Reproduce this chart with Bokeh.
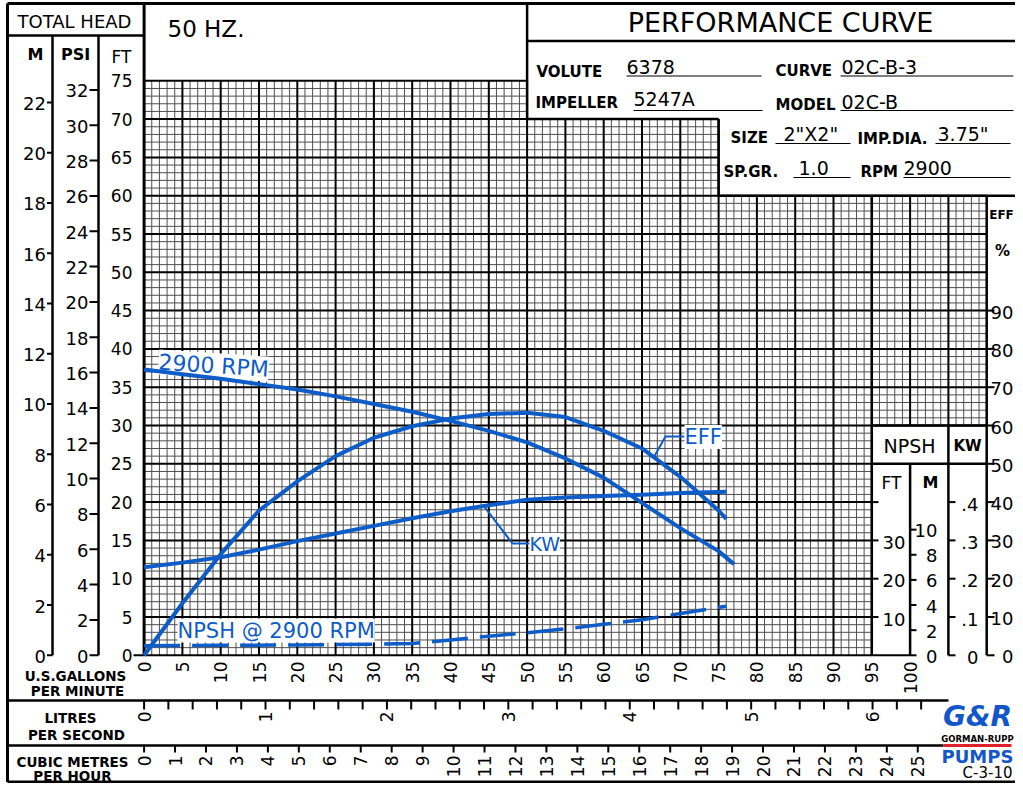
import numpy as np
from bokeh.plotting import figure
from bokeh.models import Range1d
from bokeh.core.properties import value
from bokeh.embed import file_html
from bokeh.resources import INLINE

# ---------------- data ----------------
gpm_head = [0, 5, 10, 15, 20, 25, 30, 35, 40, 45, 50, 55, 60, 65, 70, 75, 77]
head_ft = [37.3, 36.7, 36.1, 35.4, 34.7, 33.8, 32.8, 31.8, 30.6, 29.3, 27.8, 25.7, 23.2, 19.9, 16.6, 13.6, 11.9]

gpm_eff = [0, 5, 10, 15, 20, 25, 30, 35, 40, 45, 50, 55, 60, 65, 70, 75, 76]
eff_pct = [0, 13.6, 26.4, 37.8, 45.4, 52.0, 56.8, 59.8, 61.8, 63.0, 63.3, 62.2, 58.6, 54.0, 46.6, 37.8, 35.6]

gpm_kw = [0, 5, 10, 15, 20, 25, 30, 35, 40, 45, 50, 55, 60, 65, 70, 76]
kw_vals = [0.230, 0.242, 0.256, 0.276, 0.298, 0.318, 0.338, 0.358, 0.376, 0.392, 0.406, 0.412, 0.416, 0.419, 0.424, 0.427]

gpm_npsh = [0, 10, 20, 30, 35, 40, 45, 50, 55, 60, 65, 70, 76]
npsh_ft = [2.5, 2.6, 2.7, 2.9, 3.1, 4.0, 5.0, 5.9, 6.9, 8.1, 9.3, 10.9, 12.8]

gpm_ticks = list(range(0, 101, 5))
ft_ticks = list(range(0, 76, 5))
m_ticks = list(range(0, 23, 2))
psi_ticks = list(range(0, 33, 2))
lps_labels = [0, 1, 2, 3, 4, 5, 6]
lps_minor = [round(i * 0.2, 1) for i in range(0, 33)]
m3h_ticks = list(range(0, 26))
npsh_ft_ticks = [10, 20, 30, 40]
npsh_ft_labels = ["10", "20", "30", ""]
npsh_m_ticks = [0, 2, 4, 6, 8, 10]
kw_ticks = [0, 0.1, 0.2, 0.3, 0.4]
kw_labels = ["0", ".1", ".2", ".3", ".4"]
eff_ticks = [0, 10, 20, 30, 40, 50, 60, 70, 80, 90]

info_volute = "6378"
info_curve = "02C-B-3"
info_impeller = "5247A"
info_model = "02C-B"
info_size = '2"X2"'
info_impdia = '3.75"'
info_spgr = "1.0"
info_rpm = "2900"

# unit relations printed on the sheet's scales
FT_PER_M = 3.2808
FT_PER_PSI = 2.3067
GPM_PER_LPS = 15.85
GPM_PER_M3H = 4.04      # spacing as printed on this sheet
EFF_PER_FT = 2.0
NPSH_PER_FT = 2.0
KW_PER_FT = 0.02

BLUE = "#0d5cc7"
FONT = value("DejaVu Sans")

# layout helpers (page pixel -> chart units)
S, X0, Y0 = 7.66, 143.6, 654.8
def X(px): return (px - X0) / S
def Y(py): return (Y0 - py) / S

W, H = 1015, 783
p = figure(width=W, height=H,
           x_range=Range1d(X(0), X(W)), y_range=Range1d(Y(H), Y(0)),
           x_axis_type=None, y_axis_type=None, toolbar_location=None,
           output_backend="svg", min_border=0, outline_line_color=None)
p.background_fill_color = "white"
p.border_fill_color = "white"

def segs(x0, y0, x1, y1, w=2.5, c="black", **kw):
    p.segment(x0=list(x0), y0=list(y0), x1=list(x1), y1=list(y1),
              line_width=w, line_color=c, **kw)

def seg(x0, y0, x1, y1, w=2.5, c="black", **kw):
    segs([x0], [y0], [x1], [y1], w, c, **kw)

def txt(x, y, s, size, align="left", base="middle", style="normal", color="black", angle=0.0, **kw):
    if not isinstance(x, (list, tuple, np.ndarray)):
        x, y, s = [x], [y], [s]
    p.text(x=list(x), y=list(y), text=list(s), text_font=FONT, text_font_size=f"{size}px",
           text_align=align, text_baseline=base, text_color=color, angle=angle,
           text_font_style=style, **kw)

# ---------------- grid ----------------
mj = ([], [], [], [])
mn = ([], [], [], [])
for g in range(1, 110):
    top = 75 if g <= 50 else (70 if g <= 75 else 60)
    bot = 0 if g <= 95 else 30
    t = mj if g % 5 == 0 else mn
    t[0].append(g); t[1].append(bot); t[2].append(g); t[3].append(top)
for f in range(0, 76):
    right = 100 if f == 0 else (95 if f < 30 else (110 if f <= 60 else (75 if f <= 70 else 50)))
    t = mj if f % 5 == 0 else mn
    t[0].append(0); t[1].append(f); t[2].append(right); t[3].append(f)
segs(*mn, w=1, c="#4e4e4e")
segs(*mj, w=2, c="black")

# ---------------- frame ----------------
TOP, LEFT, BOT, RIGHT = Y(3), X(7), Y(781.5), X(W)
seg(LEFT, TOP, RIGHT, TOP, 3)
seg(LEFT, TOP, LEFT, BOT, 3)
seg(LEFT, BOT, RIGHT, BOT, 3)
seg(0, TOP, 0, 0, 3)
seg(LEFT, Y(35), 0, Y(35), 2.5)
seg(X(52), Y(35), X(52), 0, 2.5)
seg(X(98), Y(35), X(98), 0, 2.5)
seg(50, TOP, 50, 70, 2.5)
seg(50, Y(40.5), RIGHT, Y(40.5), 2.5)
seg(50, 70, 75, 70, 2.5)
seg(75, 70, 75, 60, 2.5)
seg(75, 60, RIGHT, 60, 2.5)
seg(110, 60, 110, 0, 2.5)
seg(95, 30, 110, 30, 2.5)
seg(95, 25, 110, 25, 2.5)
seg(95, 0, 95, 60, 2.5)
seg(100, 25, 100, 0, 2.5)
seg(105, 30, 105, 0, 2.5)
seg(LEFT, Y(700), X(948), Y(700), 2.5)
seg(LEFT, Y(745), X(943), Y(745), 2.5)

# ---------------- header texts ----------------
txt(X(74), Y(21), "TOTAL HEAD", 18, align="center")
txt(X(35), Y(54), "M", 16, align="center", style="bold")
txt(X(75), Y(54), "PSI", 16, align="center", style="bold")
txt(X(121), Y(56), "FT", 17, align="center")
txt(X(167), Y(28), "50 HZ.", 23)
txt(X(780), Y(22), "PERFORMANCE CURVE", 27, align="center")

def field(lx, ly, label, vx, vy, val, ux0, ux1, uy):
    txt(X(lx), Y(ly), label, 15, style="bold")
    txt(X(vx), Y(vy), val, 19)
    seg(X(ux0), Y(uy), X(ux1), Y(uy), 1.2)

field(536, 71, "VOLUTE", 626, 66, info_volute, 626, 761, 75.5)
field(775, 70, "CURVE", 841, 66, info_curve, 840, 1013, 75.5)
field(535, 102, "IMPELLER", 633, 98, info_impeller, 633, 762, 110)
field(775, 104, "MODEL", 841, 101, info_model, 840, 1013, 110)
field(730, 137, "SIZE", 783, 133, info_size, 775, 850, 143)
field(857, 138, "IMP.DIA.", 937, 133, info_impdia, 935, 1010, 143)
field(723, 171, "SP.GR.", 798, 167, info_spgr, 793, 850, 177)
field(860, 171, "RPM", 903, 167, info_rpm, 903, 1010, 177)

# ---------------- left scales ----------------
m_y = [m * FT_PER_M for m in m_ticks]
segs([X(46.5)] * len(m_y), m_y, [X(52)] * len(m_y), m_y, 2)
txt([X(45.5)] * len(m_y), [v - 1 / S for v in m_y], [str(m) for m in m_ticks], 18, align="right")

psi_y = [v * FT_PER_PSI for v in psi_ticks]
segs([X(89)] * len(psi_y), psi_y, [X(98)] * len(psi_y), psi_y, 2)
txt([X(88)] * len(psi_y), [v - 1 / S for v in psi_y], [str(v) for v in psi_ticks], 18, align="right")

txt([X(132)] * len(ft_ticks), ft_ticks, [str(v) for v in ft_ticks], 17, align="right")
seg(X(133), 0, 0, 0, 2)

# ---------------- bottom scales ----------------
txt(gpm_ticks, [Y(661)] * len(gpm_ticks), [str(v) for v in gpm_ticks], 17,
    align="right", angle=np.pi / 2)
txt(X(75), Y(675), "U.S.GALLONS", 13.5, align="center", style="bold")
txt(X(77), Y(690), "PER MINUTE", 13.5, align="center", style="bold")

lx = [v * GPM_PER_LPS for v in lps_minor]
segs(lx, [Y(700)] * len(lx), lx, [Y(709)] * len(lx), 2)
txt([v * GPM_PER_LPS for v in lps_labels], [Y(711)] * len(lps_labels),
    [str(v) for v in lps_labels], 17, align="right", angle=np.pi / 2)
txt(X(70), Y(717), "LITRES", 13.5, align="center", style="bold")
txt(X(76), Y(734), "PER SECOND", 13.5, align="center", style="bold")

cx = [v * GPM_PER_M3H for v in m3h_ticks]
segs(cx, [Y(745)] * len(cx), cx, [Y(752)] * len(cx), 2)
txt(cx, [Y(755)] * len(cx), [str(v) for v in m3h_ticks], 17, align="right", angle=np.pi / 2)
txt(X(72), Y(761), "CUBIC METRES", 13.5, align="center", style="bold")
txt(X(72), Y(775), "PER HOUR", 13.5, align="center", style="bold")

# ---------------- right scales ----------------
txt(X(909), Y(445), "NPSH", 19, align="center")
txt(X(967), Y(445), "KW", 15, align="center", style="bold")
txt(X(891), Y(482), "FT", 17, align="center")
txt(X(930), Y(482), "M", 16, align="center", style="bold")

ny = [v / NPSH_PER_FT for v in npsh_ft_ticks]
segs([95] * len(ny), ny, [X(878)] * len(ny), ny, 2)
txt([X(905)] * len(ny), [v - 2 / S for v in ny], npsh_ft_labels, 18, align="right")

nmy = [m * FT_PER_M / NPSH_PER_FT for m in npsh_m_ticks]
segs([100] * len(nmy), nmy, [X(916)] * len(nmy), nmy, 2)
txt([X(937)] * len(nmy), [v - 1 / S for v in nmy], [str(v) for v in npsh_m_ticks], 18, align="right")

ky = [v / KW_PER_FT for v in kw_ticks]
segs([105] * len(ky), ky, [X(955)] * len(ky), ky, 2)
txt([X(978)] * len(ky), [v - 2 / S for v in ky], kw_labels, 18, align="right")

ey = [v / EFF_PER_FT for v in eff_ticks]
segs([110] * len(ey), ey, [X(994)] * len(ey), ey, 2)
txt([X(1013)] * len(ey), [v - 1.5 / S for v in ey], [str(v) for v in eff_ticks], 18, align="right")
txt(X(1001), Y(214), "EFF", 12, align="center", style="bold")
txt(X(1002), Y(250), "%", 15, align="center", style="bold")

# ---------------- curve labels ----------------
txt(X(158), Y(361.5), "2900 RPM", 22, color=BLUE, angle=-0.065,
    background_fill_color="white")
txt(X(177), Y(630), "NPSH @ 2900 RPM", 21, color=BLUE, background_fill_color="white")

# ---------------- curves ----------------
p.line(gpm_head, head_ft, line_color=BLUE, line_width=4, line_join="round")
p.line(gpm_eff, [v / EFF_PER_FT for v in eff_pct], line_color=BLUE, line_width=4, line_join="round")
p.line(gpm_kw, [v / KW_PER_FT for v in kw_vals], line_color=BLUE, line_width=4, line_join="round")
p.line(gpm_npsh, [v / NPSH_PER_FT for v in npsh_ft], line_color=BLUE, line_width=3.5,
       line_dash="36 12", line_join="round")

# leaders
ge = X(653.3)
fe = float(np.interp(ge, gpm_eff, [v / EFF_PER_FT for v in eff_pct]))
p.line([ge, X(665), X(684)], [fe, Y(436), Y(436)], line_color=BLUE, line_width=2)
txt(X(684), Y(436.5), "EFF", 21, color=BLUE, background_fill_color="white")

gk = X(483.3)
fk = float(np.interp(gk, gpm_kw, [v / KW_PER_FT for v in kw_vals]))
p.line([gk, X(512), X(529)], [fk, Y(543), Y(543)], line_color=BLUE, line_width=2)
txt(X(529), Y(543.5), "KW", 19, color=BLUE, background_fill_color="white")

# ---------------- logo ----------------
txt(X(977), Y(716), "G&R", 28, align="center", style="bold italic", color="#1257c9")
txt(X(977), Y(738), "GORMAN-RUPP", 8.5, align="center", style="bold")
seg(X(943), Y(745), X(1011), Y(745), 3, "#e0202a")
txt(X(977), Y(756), "PUMPS", 18, align="center", style="bold", color="#1257c9")
txt(X(987), Y(772), "C-3-10", 15, align="center")

open("out.html", "w").write(file_html(p, INLINE))
